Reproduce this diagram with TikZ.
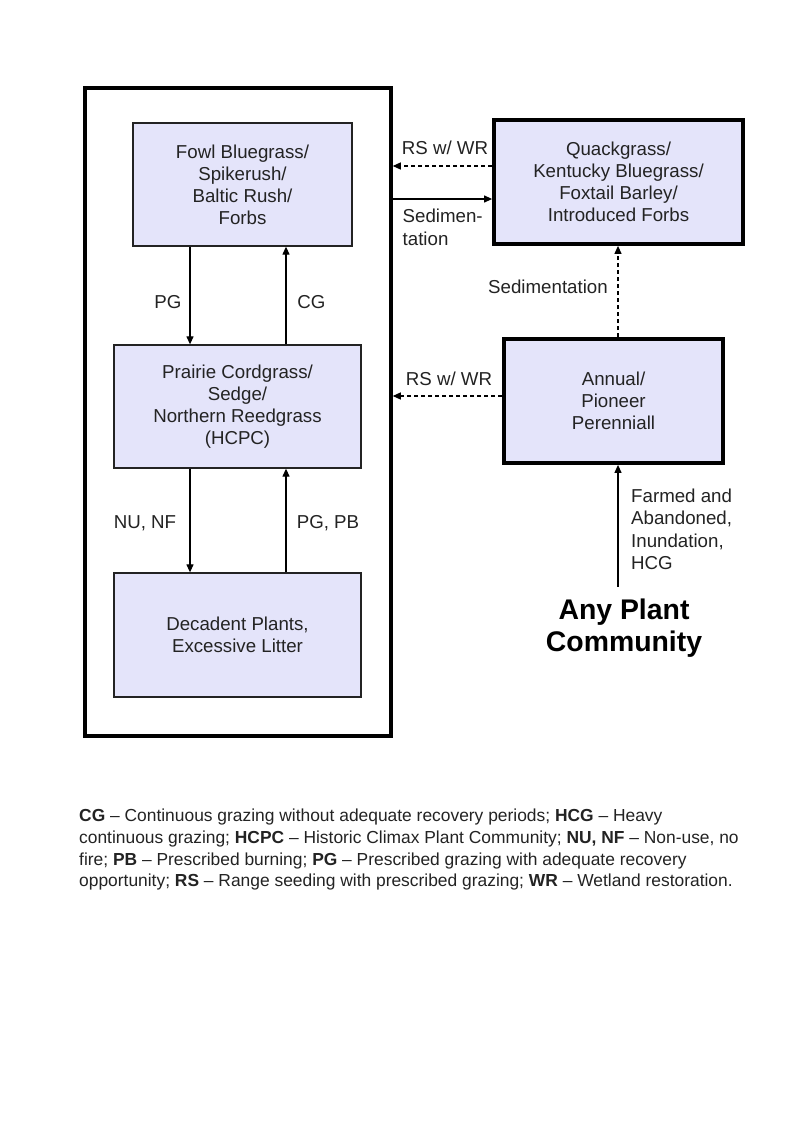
\documentclass[tikz,border=0pt]{standalone}
\usepackage{fontspec}
\setmainfont{Liberation Sans}
\usetikzlibrary{arrows.meta}
\definecolor{boxfill}{RGB}{228,228,250}
\definecolor{txt}{RGB}{35,35,35}
\newcommand\fsz[2]{\fontsize{#1}{#2}\selectfont}
\tikzset{
  thinbox/.style={draw=txt, line width=1.3pt, fill=boxfill, align=center, text=txt, font=\fsz{18.7pt}{22pt}, inner sep=0pt},
  thickbox/.style={draw=black, line width=3.8pt, fill=boxfill, align=center, text=txt, font=\fsz{18.7pt}{22pt}, inner sep=0pt},
  lbl/.style={text=txt, font=\fsz{18.7pt}{22.5pt}, inner sep=0pt},
  arr/.style={draw=black, line width=1.2pt, -{Triangle[length=8pt,width=7pt]}},
  darr/.style={arr, dash pattern=on 4pt off 3pt},
}
\begin{document}
\begin{tikzpicture}[x=1pt,y=-1pt]
\useasboundingbox (0,0) rectangle (800,1143);
\fill[white] (0,0) rectangle (800,1143);

% outer frame
\node[draw=black, line width=3.5pt, minimum width=306pt, minimum height=648pt, inner sep=0pt] (outer) at (238,412) {};

% boxes
\node[thinbox, minimum width=219pt, minimum height=123pt] (fowl) at (242.5,184.5) {Fowl Bluegrass/\\Spikerush/\\Baltic Rush/\\Forbs};
\node[thinbox, minimum width=247pt, minimum height=123pt] (prairie) at (237.5,406.5) {Prairie Cordgrass/\\Sedge/\\Northern Reedgrass\\(HCPC)};
\node[thinbox, minimum width=247pt, minimum height=124pt] (decadent) at (237.5,635) {Decadent Plants,\\Excessive Litter};
\node[thickbox, minimum width=249pt, minimum height=124pt] (quack) at (618.5,182) {Quackgrass/\\Kentucky Bluegrass/\\Foxtail Barley/\\Introduced Forbs};
\node[thickbox, minimum width=219pt, minimum height=124pt] (annual) at (613.5,401) {Annual/\\Pioneer\\Perenniall};

\node[text=black, align=center, font=\bfseries\fsz{28.4pt}{32pt}, inner xsep=0pt, inner ysep=12pt] (apc) at (624,628) {Any Plant\\Community};

% helper coordinates
\coordinate (xa) at (190,0);
\coordinate (xb) at (286,0);
\coordinate (xc) at (618,0);
\coordinate (ya) at (0,166);
\coordinate (yb) at (0,199);
\coordinate (yc) at (0,396);

% connectors
\draw[arr] (fowl.south -| xa) -- (prairie.north -| xa);
\draw[arr] (prairie.north -| xb) -- (fowl.south -| xb);
\draw[arr] (prairie.south -| xa) -- (decadent.north -| xa);
\draw[arr] (decadent.north -| xb) -- (prairie.south -| xb);
\draw[darr] (quack.west |- ya) -- (outer.east |- ya);
\draw[arr] (outer.east |- yb) -- (quack.west |- yb);
\draw[darr] (annual.north -| xc) -- (quack.south -| xc);
\draw[darr] (annual.west |- yc) -- (outer.east |- yc);
\draw[arr] (apc.north -| xc) -- (annual.south -| xc);

% labels
\node[lbl] (lpg) at (168,302) {PG};
\node[lbl] (lcg) at (311.5,302) {CG};
\node[lbl] (lnu) at (145,523) {NU, NF};
\node[lbl] (lpb) at (328,523) {PG, PB};
\node[lbl] (lrs1) at (445,148) {RS w/ WR};
\node[lbl, anchor=west, align=left] (lsed1) at (402.5,227.5) {Sedimen-\\tation};
\node[lbl] (lsed2) at (548,287) {Sedimentation};
\node[lbl] (lrs2) at (449,379) {RS w/ WR};
\node[lbl, anchor=west, align=left] (lfarm) at (631,529.5) {Farmed and\\Abandoned,\\Inundation,\\HCG};

% legend
\node[anchor=north west, align=left, text=txt, font=\fsz{17.4pt}{21.6pt}, inner sep=0pt] (legend) at (79,809) {%
\textbf{CG} – Continuous grazing without adequate recovery periods; \textbf{HCG} – Heavy\\
continuous grazing; \textbf{HCPC} – Historic Climax Plant Community; \textbf{NU, NF} – Non-use, no\\
fire; \textbf{PB} – Prescribed burning; \textbf{PG} – Prescribed grazing with adequate recovery\\
opportunity; \textbf{RS} – Range seeding with prescribed grazing; \textbf{WR} – Wetland restoration.};
\end{tikzpicture}
\end{document}
